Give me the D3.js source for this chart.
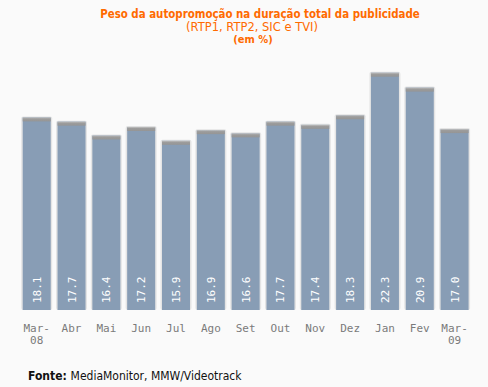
<!DOCTYPE html>
<html>
<head>
<meta charset="utf-8">
<script src="https://cdn.jsdelivr.net/npm/d3@7"></script>
<style>
  body { margin: 0; background: #fafafa; }
  svg { display: block; }
</style>
</head>
<body>
<script>
// categories and values
var months = ["Mar-|08", "Abr", "Mai", "Jun", "Jul", "Ago", "Set", "Out", "Nov", "Dez", "Jan", "Fev", "Mar-|09"];
var values = [18.1, 17.7, 16.4, 17.2, 15.9, 16.9, 16.6, 17.7, 17.4, 18.3, 22.3, 20.9, 17.0];

var width = 488, height = 387;
var orange = "#ff6a00";

var svg = d3.select("body").append("svg")
    .attr("width", width)
    .attr("height", height);

svg.append("rect").attr("width", width).attr("height", height).attr("fill", "#fafafa");

var defs = svg.append("defs");
var capGrad = defs.append("linearGradient")
    .attr("id", "cap").attr("x1", 0).attr("y1", 0).attr("x2", 0).attr("y2", 1);
capGrad.append("stop").attr("offset", "0%").attr("stop-color", "#c4c4c4");
capGrad.append("stop").attr("offset", "35%").attr("stop-color", "#9c9c9c");
capGrad.append("stop").attr("offset", "100%").attr("stop-color", "#959595");

var x = d3.scaleBand()
    .domain(months)
    .range([19.3, 472])
    .paddingInner(0.196)
    .paddingOuter(0.098);

var y = d3.scaleLinear()
    .domain([0, 22.3])
    .range([310, 72.7]);

// title
var title = svg.append("g").attr("fill", orange).attr("text-anchor", "middle");
title.append("text").attr("x", 260).attr("y", 18)
    .style("font-family", "'DejaVu Sans Condensed', 'DejaVu Sans', sans-serif")
    .style("font-size", "11.4px").style("font-weight", "bold")
    .text("Peso da autopromoção na duração total da publicidade");
title.append("text").attr("x", 252).attr("y", 31)
    .style("font-family", "'DejaVu Sans', sans-serif")
    .style("font-size", "11.5px")
    .text("(RTP1, RTP2, SIC e TVI)");
title.append("text").attr("x", 253).attr("y", 43)
    .style("font-family", "'DejaVu Sans Condensed', 'DejaVu Sans', sans-serif")
    .style("font-size", "11px").style("font-weight", "bold")
    .text("(em %)");

// bars
var bars = svg.append("g").selectAll("g")
    .data(months)
    .enter().append("g");

// soft shadow around each bar
bars.append("rect")
    .attr("x", function(d) { return x(d) - 1.5; })
    .attr("y", function(d, i) { return y(values[i]) - 1; })
    .attr("width", x.bandwidth() + 3)
    .attr("height", function(d, i) { return y(0) - y(values[i]) + 1; })
    .attr("rx", 2)
    .attr("fill", "#e4e4e4");

bars.append("rect")
    .attr("x", function(d) { return x(d); })
    .attr("y", function(d, i) { return y(values[i]); })
    .attr("width", x.bandwidth())
    .attr("height", function(d, i) { return y(0) - y(values[i]); })
    .attr("fill", "#889db5");

bars.append("rect")
    .attr("x", function(d) { return x(d); })
    .attr("y", function(d, i) { return y(values[i]); })
    .attr("width", x.bandwidth())
    .attr("height", 4)
    .attr("fill", "url(#cap)");

// value labels, rotated inside the bars
bars.append("text")
    .attr("transform", function(d) {
        return "translate(" + (x(d) + x.bandwidth() / 2 + 4) + "," + (y(0) - 7) + ") rotate(-90)";
    })
    .attr("fill", "#fff")
    .style("font-family", "'DejaVu Sans Mono', monospace")
    .style("font-size", "11px")
    .text(function(d, i) { return values[i].toFixed(1); });

// x axis labels
var xAxis = svg.append("g")
    .attr("transform", "translate(0,310)")
    .call(d3.axisBottom(x).tickSize(0).tickPadding(0).tickFormat(""));
xAxis.select(".domain").remove();

xAxis.selectAll(".tick").each(function(d) {
    var parts = d.split("|");
    var t = d3.select(this).append("text")
        .attr("fill", "#7a7a7a")
        .attr("text-anchor", "middle")
        .style("font-family", "'DejaVu Sans Mono', monospace")
        .style("font-size", "11px");
    parts.forEach(function(p, k) {
        t.append("tspan").attr("x", 0).attr("y", 22 + k * 12).text(p);
    });
});

// source
var src = svg.append("text")
    .attr("x", 28).attr("y", 380)
    .attr("fill", "#111")
    .style("font-family", "'DejaVu Sans Condensed', 'DejaVu Sans', sans-serif")
    .style("font-size", "12px");
src.append("tspan").style("font-weight", "bold").text("Fonte: ");
src.append("tspan").text("MediaMonitor, MMW/Videotrack");
</script>
</body>
</html>
